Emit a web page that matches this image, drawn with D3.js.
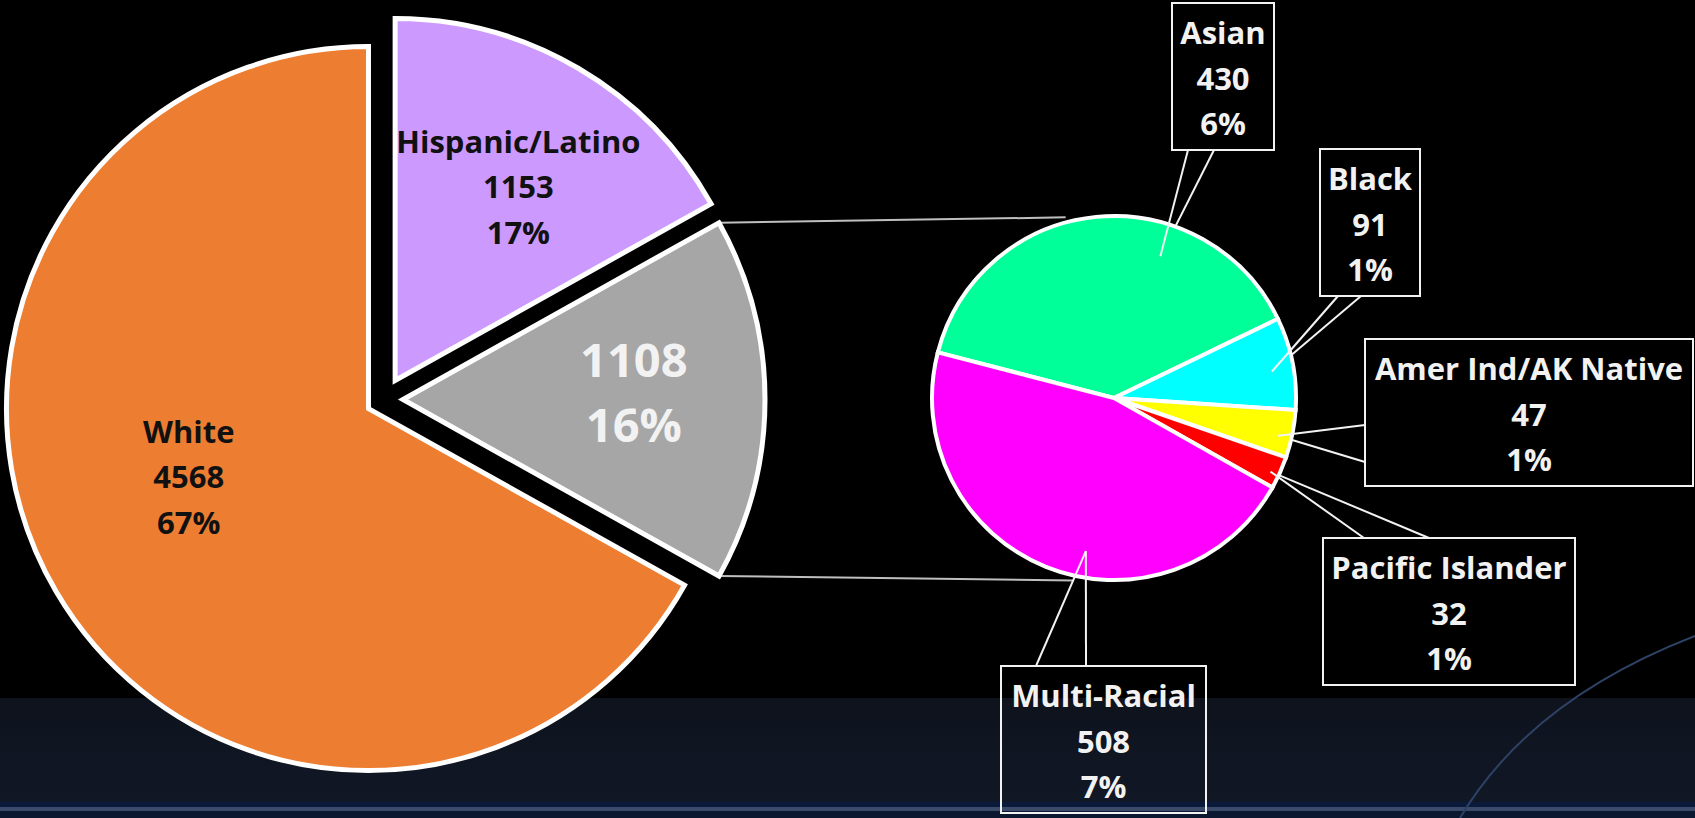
<!DOCTYPE html>
<meta charset="utf-8">
<style>
body { margin: 0; background: #000; overflow: hidden; }
text { font-family: "Open Sans", sans-serif; font-weight: bold; }
</style>
<body>
<script src="https://cdn.jsdelivr.net/npm/d3@7/dist/d3.min.js"></script>
<script>

// big pie, clockwise from 12 o'clock
var mainNames = ["Hispanic/Latino", "", "White"];
var mainValues = [1153, 1108, 4568];
var mainPercents = ["17%", "16%", "67%"];
var mainColors = ["#cc99ff", "#a6a6a6", "#ed7d31"];

// the 1108 slice split out
var subNames = ["Asian", "Black", "Amer Ind/AK Native", "Pacific Islander", "Multi-Racial"];
var subValues = [430, 91, 47, 32, 508];
var subPercents = ["6%", "1%", "1%", "1%", "7%"];
var subColors = ["#00ff99", "#00ffff", "#ffff00", "#ff0000", "#ff00ff"];

var width = 1695, height = 818;
var deg = Math.PI / 180;

var main = {cx: 384, cy: 399.5, r: 362};
var explode = [22, 19, 18];
// label spot per slice: angle (deg) and distance from the slice apex
var mainLabelAt = [[32.4, 230], [88.1, 231], [249.4, 192]];

var sub = {cx: 1114, cy: 398, r: 182, start: -75.5};

// callout boxes; pointer runs from two points on the box to a tip inside the slice
// f = where in the slice (0..1 of its angle), rf = fraction of radius
var callouts = [
  {x: 1172, y: 3,   w: 102, base: [[1188, 150], [1214, 150]], over: [true, false], f: 0.67, rf: 0.82},
  {x: 1320, y: 149, w: 100, base: [[1338, 296], [1361, 296]], over: [true, false], f: 0.55, rf: 0.88},
  {x: 1365, y: 339, w: 328, base: [[1365, 425], [1365, 462]], over: [true, false], f: 0.60, rf: 0.925},
  {x: 1323, y: 538, w: 252, base: [[1364, 538], [1429, 538]], over: [true, false], f: 0.59, rf: 0.95},
  {x: 1001, y: 666, w: 205, base: [[1036, 666], [1086, 666]], over: [true, true], f: 0.43, rf: 0.855}
];
var boxH = 147;

function polar(cx, cy, a, r) {
  return [cx + r * Math.sin(a), cy - r * Math.cos(a)];
}

var svg = d3.select("body").append("svg")
    .attr("width", width)
    .attr("height", height);

// background
var defs = svg.append("defs");
var grad = defs.append("linearGradient").attr("id", "band")
    .attr("x1", 0).attr("y1", 0).attr("x2", 0).attr("y2", 1);
grad.append("stop").attr("offset", "0%").attr("stop-color", "#0e131d");
grad.append("stop").attr("offset", "100%").attr("stop-color", "#111827");

svg.append("rect").attr("width", width).attr("height", height).attr("fill", "#000");
svg.append("rect").attr("y", 698).attr("width", width).attr("height", 120).attr("fill", "url(#band)");
svg.append("rect").attr("y", 802).attr("width", width).attr("height", 5).attr("fill", "#0a1a3a");
svg.append("rect").attr("y", 807).attr("width", width).attr("height", 4).attr("fill", "#3a4a68");
svg.append("rect").attr("y", 811).attr("width", width).attr("height", 7).attr("fill", "#0c1830");
svg.append("path")
    .attr("d", "M1695,636 Q1530,700 1460,818")
    .attr("fill", "none")
    .attr("stroke", "#2e4266")
    .attr("stroke-width", 2);

// pies
var mainArcs = d3.pie().sort(null)(mainValues);
var subArcs = d3.pie().sort(null)
    .startAngle(sub.start * deg)
    .endAngle(sub.start * deg + 2 * Math.PI)(subValues);

var arcMain = d3.arc().innerRadius(0).outerRadius(main.r);
var arcSub = d3.arc().innerRadius(0).outerRadius(sub.r);

var apex = mainArcs.map(function(d, i) {
  var m = (d.startAngle + d.endAngle) / 2;
  return polar(main.cx, main.cy, m, explode[i]);
});

// connector lines from the grey slice to the small pie
var g = mainArcs[1], ga = apex[1];
var c1 = polar(ga[0], ga[1], g.startAngle, main.r);
var c2 = polar(ga[0], ga[1], g.endAngle, main.r);
var s1 = polar(sub.cx, sub.cy, -15 * deg, sub.r + 5);
var s2 = polar(sub.cx, sub.cy, 192.6 * deg, sub.r + 5);
[[c1, s1], [c2, s2]].forEach(function(l) {
  svg.append("line")
      .attr("x1", l[0][0]).attr("y1", l[0][1])
      .attr("x2", l[1][0]).attr("y2", l[1][1])
      .attr("stroke", "#bfbfbf")
      .attr("stroke-width", 2);
});

svg.append("g").selectAll("path")
    .data(mainArcs)
  .enter().append("path")
    .attr("transform", function(d, i) { return "translate(" + apex[i] + ")"; })
    .attr("d", arcMain)
    .attr("fill", function(d, i) { return mainColors[i]; })
    .attr("stroke", "#fff")
    .attr("stroke-width", 5)
    .attr("stroke-linejoin", "miter");

// main labels
mainArcs.forEach(function(d, i) {
  var p = polar(apex[i][0], apex[i][1], mainLabelAt[i][0] * deg, mainLabelAt[i][1]);
  var lines, size, gap, col;
  if (mainNames[i]) {
    lines = [mainNames[i], mainValues[i], mainPercents[i]];
    size = 31; gap = 45.5; col = "#111";
  } else {
    lines = [mainValues[i], mainPercents[i]];
    size = 47; gap = 65; col = "#f2f2f2";
  }
  var t = svg.append("text")
      .attr("text-anchor", "middle")
      .attr("fill", col)
      .attr("font-size", size);
  lines.forEach(function(s, k) {
    t.append("tspan")
        .attr("x", p[0])
        .attr("y", p[1] + (k - (lines.length - 1) / 2) * gap)
        .attr("dominant-baseline", "central")
        .text(s);
  });
});

// callout pointers that sit under the small pie
var tips = subArcs.map(function(d, i) {
  var c = callouts[i];
  var a = d.startAngle + c.f * (d.endAngle - d.startAngle);
  return polar(sub.cx, sub.cy, a, c.rf * sub.r);
});

function pointer(layer, flag) {
  callouts.forEach(function(c, i) {
    c.base.forEach(function(b, k) {
      if (c.over[k] !== flag) return;
      layer.append("line")
          .attr("x1", b[0]).attr("y1", b[1])
          .attr("x2", tips[i][0]).attr("y2", tips[i][1])
          .attr("stroke", "#f2f2f2")
          .attr("stroke-width", 2);
    });
  });
}
pointer(svg.append("g"), false);

svg.append("g")
    .attr("transform", "translate(" + sub.cx + "," + sub.cy + ")")
  .selectAll("path")
    .data(subArcs)
  .enter().append("path")
    .attr("d", arcSub)
    .attr("fill", function(d, i) { return subColors[i]; })
    .attr("stroke", "#fff")
    .attr("stroke-width", 4);

pointer(svg.append("g"), true);

// callout boxes
callouts.forEach(function(c, i) {
  svg.append("rect")
      .attr("x", c.x).attr("y", c.y)
      .attr("width", c.w).attr("height", boxH)
      .attr("fill", "none")
      .attr("stroke", "#f2f2f2")
      .attr("stroke-width", 2);
  var t = svg.append("text")
      .attr("text-anchor", "middle")
      .attr("fill", "#f2f2f2")
      .attr("font-size", 31);
  [subNames[i], subValues[i], subPercents[i]].forEach(function(s, k) {
    t.append("tspan")
        .attr("x", c.x + c.w / 2)
        .attr("y", c.y + 29 + k * 45.5)
        .attr("dominant-baseline", "central")
        .text(s);
  });
});

</script>
</body>
</html>
